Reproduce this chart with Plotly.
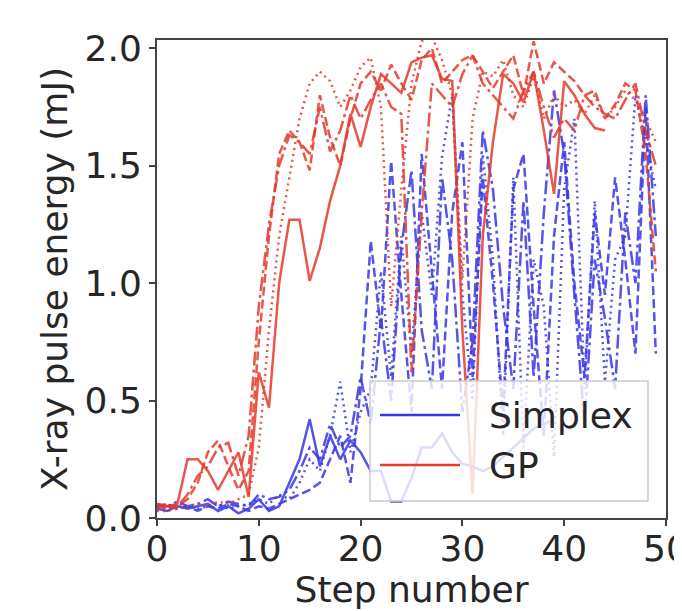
import plotly.graph_objects as go

# step numbers
steps = list(range(50))

# GP runs (red)
gp_solid = [0.05, 0.05, 0.06, 0.25, 0.25, 0.20, 0.12, 0.20, 0.28, 0.09,
            0.62, 0.47, 1.00, 1.27, 1.27, 1.01, 1.15, 1.35, 1.50, 1.72,
            1.58, 1.75, 1.89, 1.85, 1.81, 1.94, 1.96, 1.97, 1.87, 1.86,
            0.80, 0.10, 1.20, 1.60, 1.89, 1.85, 1.77, 1.90, 1.65, 1.38,
            1.86, 1.80, 1.72, 1.66, 1.65]
gp_dash = [0.05, 0.04, 0.05, 0.08, 0.15, 0.28, 0.33, 0.22, 0.12, 0.20,
           0.75, 1.20, 1.55, 1.65, 1.60, 1.48, 1.80, 1.62, 1.50, 1.70,
           1.85, 1.90, 1.82, 1.93, 1.85, 1.78, 1.95, 2.00, 1.85, 1.90,
           1.95, 1.97, 1.90, 1.83, 1.90, 1.97, 1.80, 2.03, 1.85, 1.94,
           1.90, 1.86, 1.80, 1.82, 1.70, 1.76, 1.85, 1.82, 1.55, 1.05]
gp_dot = [0.03, 0.03, 0.04, 0.05, 0.06, 0.05, 0.07, 0.06, 0.08, 0.10,
          0.30, 0.80, 1.20, 1.45, 1.70, 1.85, 1.90, 1.86, 1.75, 1.82,
          1.92, 1.96, 1.75, 0.90, 1.40, 1.85, 2.03, 2.05, 1.95, 1.80,
          1.02, 1.70, 1.90, 1.88, 1.95, 1.80, 1.75, 1.88, 1.70, 1.80,
          1.75, 1.78, 1.72, 1.80, 1.70, 1.75, 1.82, 1.78, 1.70, 1.60]
gp_dashdot = [0.06, 0.05, 0.05, 0.10, 0.18, 0.22, 0.30, 0.32, 0.18, 0.35,
              0.90, 1.25, 1.50, 1.63, 1.60, 1.55, 1.75, 1.56, 1.65, 1.80,
              1.70, 1.78, 1.85, 1.75, 1.72, 0.62, 1.30, 1.85, 1.80, 1.75,
              1.89, 1.97, 1.85, 1.80, 1.75, 1.70, 1.82, 1.90, 1.75, 1.62,
              1.70, 1.65, 1.80, 1.75, 1.72, 1.70, 1.78, 1.85, 1.65, 1.50]

# Simplex runs (blue)
sx_solid = [0.04, 0.03, 0.05, 0.04, 0.05, 0.06, 0.03, 0.05, 0.02, 0.04,
            0.08, 0.03, 0.05, 0.15, 0.25, 0.42, 0.22, 0.35, 0.25, 0.33,
            0.28, 0.20, 0.20, 0.07, 0.07, 0.17, 0.30, 0.30, 0.36, 0.28,
            0.23, 0.22, 0.20, 0.22, 0.26, 0.30, 0.34, 0.38, 0.40, 0.42]
sx_dash = [0.05, 0.06, 0.04, 0.05, 0.03, 0.05, 0.04, 0.06, 0.05, 0.03,
           0.05, 0.04, 0.06, 0.08, 0.10, 0.12, 0.15, 0.25, 0.35, 0.15,
           0.55, 1.18, 0.80, 1.52, 0.95, 0.45, 1.55, 1.05, 0.55, 1.30,
           1.60, 0.60, 1.45, 1.00, 0.45, 1.40, 1.55, 0.90, 0.35, 1.20,
           1.60, 1.00, 0.60, 1.30, 0.95, 1.45, 1.10, 0.70, 1.75, 0.70]
sx_dot = [0.05, 0.04, 0.06, 0.05, 0.04, 0.05, 0.06, 0.04, 0.05, 0.06,
          0.08, 0.06, 0.10, 0.08, 0.15, 0.25, 0.20, 0.35, 0.58, 0.28,
          0.45, 0.55, 1.05, 0.60, 1.20, 0.70, 1.30, 0.95, 1.54, 1.80,
          0.95, 0.50, 1.55, 1.10, 0.35, 1.45, 0.30, 1.10, 0.90, 0.26,
          1.40, 1.70, 0.55, 1.35, 0.58, 1.10, 1.20, 1.80, 1.60, 1.40]
sx_dashdot = [0.06, 0.05, 0.07, 0.05, 0.06, 0.08, 0.05, 0.07, 0.06, 0.05,
              0.10, 0.08, 0.09, 0.12, 0.20, 0.30, 0.25, 0.40, 0.30, 0.35,
              0.60, 0.40, 0.85, 0.50, 1.15, 1.48, 0.80, 0.55, 1.45, 1.10,
              0.45, 0.75, 1.65, 1.40, 0.90, 0.55, 1.35, 0.60, 1.30, 1.82,
              1.55, 0.95, 0.40, 1.10, 0.85, 0.55, 1.30, 1.00, 1.80, 1.20]

x_ticks = [0, 10, 20, 30, 40, 50]
y_ticks = [0.0, 0.5, 1.0, 1.5, 2.0]

RED = "rgb(228,58,42)"
BLUE = "rgb(55,55,232)"
DASH = "9px,4px"
DOT = "2px,4px"
DASHDOT = "14px,4px,3px,4px"

fig = go.Figure()

runs = [
    (sx_dash, BLUE, DASH), (sx_dot, BLUE, DOT), (sx_dashdot, BLUE, DASHDOT), (sx_solid, BLUE, "solid"),
    (gp_dash, RED, DASH), (gp_dot, RED, DOT), (gp_dashdot, RED, DASHDOT), (gp_solid, RED, "solid"),
]
for vals, col, dash in runs:
    fig.add_trace(go.Scatter(
        x=steps[:len(vals)], y=vals, mode="lines",
        line=dict(color=col, width=2.5, dash=dash),
        opacity=0.85, showlegend=False,
    ))

axis_style = dict(
    showline=True, mirror=True, linecolor="#444", linewidth=2,
    ticks="outside", ticklen=6, tickwidth=1.5, tickcolor="#444",
    showgrid=False, zeroline=False, automargin=False,
    ticklabeloverflow="allow",
    tickfont=dict(size=36, color="#262626"),
)

# page body has an 8px margin, so the plot box is shifted back by that
L, T, PW, PH = 149, 32, 509, 478

fig.update_layout(
    template="none",
    width=682, height=611,
    margin=dict(l=L, r=682 - L - PW, t=T, b=611 - T - PH),
    paper_bgcolor="white", plot_bgcolor="white",
    font=dict(family="DejaVu Sans", color="#262626"),
    xaxis=dict(range=[0, 50], tickvals=x_ticks, ticktext=[str(t) for t in x_ticks],
               ticklabelstandoff=-8,
               title=dict(text="Step number", font=dict(size=36), standoff=0), **axis_style),
    yaxis=dict(range=[0, 2.035], tickvals=y_ticks, ticktext=["%.1f" % t for t in y_ticks],
               title=dict(text="X-ray pulse energy (mJ)", font=dict(size=36), standoff=6), **axis_style),
)

# legend drawn by hand so the line samples match the long matplotlib ones
def px(xp):
    return (xp - 157) / PW


def py(yp):
    return (518 - yp) / PH


fig.add_shape(type="rect", xref="paper", yref="paper", layer="above",
              x0=px(370), x1=px(648), y0=py(501), y1=py(381),
              fillcolor="rgba(255,255,255,0.8)", line=dict(color="#cccccc", width=1.5))
for name, col, ypx in [("Simplex", BLUE, 415), ("GP", RED, 465)]:
    fig.add_shape(type="line", xref="paper", yref="paper", layer="above",
                  x0=px(380), x1=px(460), y0=py(ypx), y1=py(ypx),
                  line=dict(color=col, width=2.5))
    fig.add_annotation(xref="paper", yref="paper", x=px(487), y=py(ypx),
                       text=name, showarrow=False, xanchor="left", yanchor="middle",
                       font=dict(size=36, color="#262626"))

fig.write_html("out.html")
